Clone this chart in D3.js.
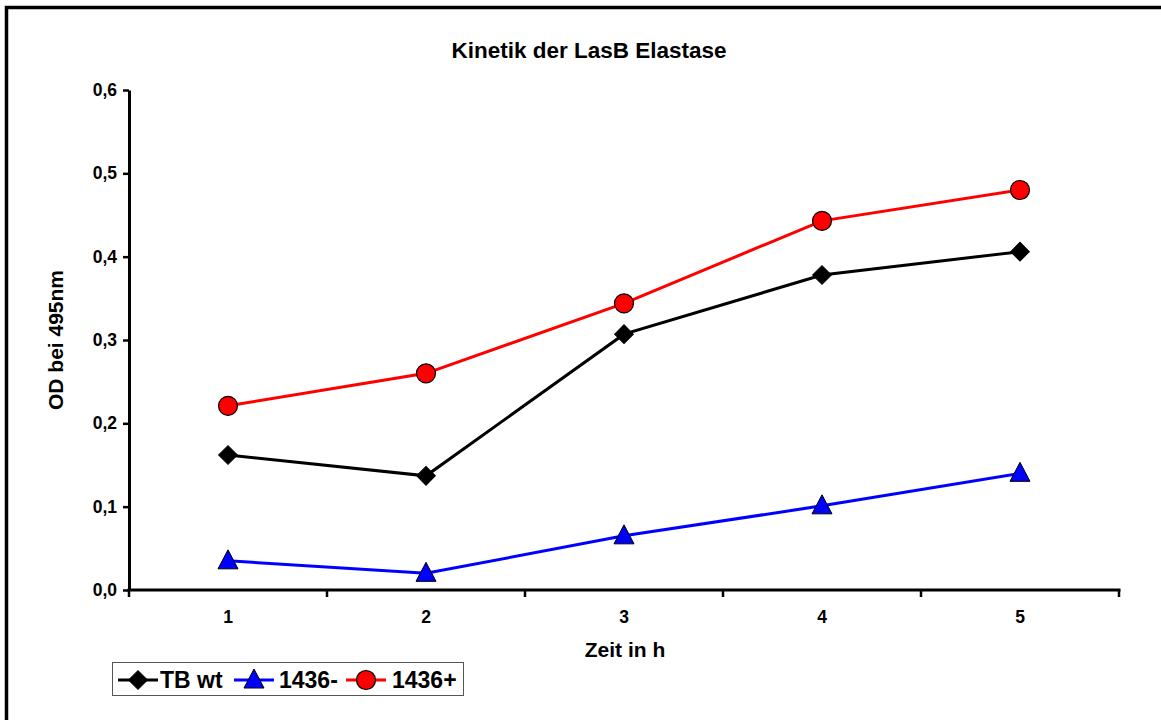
<!DOCTYPE html>
<html>
<head>
<meta charset="utf-8">
<script src="https://cdn.jsdelivr.net/npm/d3@7"></script>
<style>
  html, body { margin: 0; padding: 0; background: #fff; }
  svg { display: block; font-family: Arial, "Liberation Sans", sans-serif; }
</style>
</head>
<body>
<svg id="chart" width="1161" height="720"></svg>
<script>
// Time points (hours) and measured OD at 495 nm
const hours = ["1", "2", "3", "4", "5"];
const tbWt = [0.162, 0.137, 0.307, 0.378, 0.406];
const minus1436 = [0.035, 0.020, 0.065, 0.101, 0.140];
const plus1436 = [0.221, 0.260, 0.344, 0.443, 0.480];
const yTicks = [0, 0.1, 0.2, 0.3, 0.4, 0.5, 0.6];

const series = [
  { name: "TB wt", values: tbWt, color: "#000000", marker: "diamond" },
  { name: "1436-", values: minus1436, color: "#0000ff", marker: "triangle" },
  { name: "1436+", values: plus1436, color: "#ff0000", marker: "circle" }
];

const svg = d3.select("#chart");
const FONT = "Arial, 'Liberation Sans', sans-serif";

// Outer chart frame (left and top edges visible)
svg.append("path")
  .attr("d", "M6.5,720 L6.5,7.5 L1161,7.5")
  .attr("fill", "none")
  .attr("stroke", "#000")
  .attr("stroke-width", 3.5);

const plot = { left: 129, right: 1119, top: 90, bottom: 590 };

const x = d3.scaleBand().domain(hours).range([plot.left, plot.right]);
const y = d3.scaleLinear().domain([0, 0.6]).range([plot.bottom, plot.top]);

// Title
svg.append("text")
  .attr("x", 589).attr("y", 58)
  .attr("text-anchor", "middle")
  .attr("font-size", 22.5).attr("font-weight", "bold")
  .text("Kinetik der LasB Elastase");

// Y axis
const fmt = d3.format(".1f");
const yAxis = svg.append("g")
  .attr("transform", `translate(${plot.left},0)`)
  .call(d3.axisLeft(y).tickValues(yTicks).tickSize(6).tickSizeOuter(0)
    .tickFormat(d => fmt(d).replace(".", ",")));
yAxis.attr("font-size", 17.5).attr("font-family", FONT);
yAxis.select(".domain").attr("stroke-width", 3);
yAxis.selectAll(".tick line").attr("stroke-width", 2.5);
yAxis.selectAll("text")
  .attr("font-weight", "bold")
  .attr("fill", "#000").attr("x", -12);

// X axis: ticks at band boundaries, labels at band centers
const xAxisG = svg.append("g").attr("transform", `translate(0,${plot.bottom})`);
xAxisG.append("line")
  .attr("x1", plot.left - 1.5).attr("x2", plot.right + 1.5)
  .attr("stroke", "#000").attr("stroke-width", 3);
const boundaries = hours.map(h => x(h)).concat([x(hours[hours.length - 1]) + x.bandwidth()]);
xAxisG.selectAll("line.tick")
  .data(boundaries)
  .join("line")
  .attr("class", "tick")
  .attr("x1", d => d).attr("x2", d => d)
  .attr("y1", 0).attr("y2", 7)
  .attr("stroke", "#000").attr("stroke-width", 2.5);
xAxisG.selectAll("text")
  .data(hours)
  .join("text")
  .attr("x", d => x(d) + x.bandwidth() / 2)
  .attr("y", 33)
  .attr("text-anchor", "middle")
  .attr("font-size", 17.5).attr("font-weight", "bold")
  .text(d => d);

// Axis titles
svg.append("text")
  .attr("x", 625).attr("y", 657)
  .attr("text-anchor", "middle")
  .attr("font-size", 21).attr("font-weight", "bold")
  .text("Zeit in h");

svg.append("text")
  .attr("transform", `translate(63,${(plot.top + plot.bottom) / 2}) rotate(-90)`)
  .attr("text-anchor", "middle")
  .attr("font-size", 21).attr("font-weight", "bold")
  .text("OD bei 495nm");

// Marker drawing
function drawMarker(g, type, color, cx, cy) {
  if (type === "diamond") {
    g.append("path")
      .attr("d", d3.symbol(d3.symbolSquare, 175)())
      .attr("transform", `translate(${cx},${cy}) rotate(45)`)
      .attr("fill", color).attr("stroke", "#000").attr("stroke-width", 1);
  } else if (type === "triangle") {
    g.append("path")
      .attr("d", `M0,-11 L10,8 L-10,8 Z`)
      .attr("transform", `translate(${cx},${cy})`)
      .attr("fill", color).attr("stroke", "#000").attr("stroke-width", 1);
  } else {
    g.append("circle")
      .attr("cx", cx).attr("cy", cy).attr("r", 9.5)
      .attr("fill", color).attr("stroke", "#000").attr("stroke-width", 1.2);
  }
}

const cxOf = i => x(hours[i]) + x.bandwidth() / 2;
const line = d3.line().x((d, i) => cxOf(i)).y(d => y(d));

// Draw series with their markers
series.forEach(s => {
  const g = svg.append("g");
  g.append("path")
    .datum(s.values)
    .attr("d", line)
    .attr("fill", "none")
    .attr("stroke", s.color)
    .attr("stroke-width", 3);
  s.values.forEach((v, i) => drawMarker(g, s.marker, s.color, cxOf(i), y(v)));
});

// Legend
const legend = svg.append("g");
legend.append("rect")
  .attr("x", 112.5).attr("y", 662.5).attr("width", 351).attr("height", 33)
  .attr("fill", "#fff").attr("stroke", "#555").attr("stroke-width", 1);

const legendItems = [
  { s: series[0], lx: 118, tx: 160 },
  { s: series[1], lx: 234, tx: 279 },
  { s: series[2], lx: 346, tx: 392 }
];
legendItems.forEach(({ s, lx, tx }) => {
  legend.append("line")
    .attr("x1", lx).attr("x2", lx + 40)
    .attr("y1", 680).attr("y2", 680)
    .attr("stroke", s.color).attr("stroke-width", 3);
  drawMarker(legend, s.marker, s.color, lx + 20, 680);
  legend.append("text")
    .attr("x", tx).attr("y", 688)
    .attr("font-size", 23).attr("font-weight", "bold")
    .text(s.name);
});
</script>
</body>
</html>
